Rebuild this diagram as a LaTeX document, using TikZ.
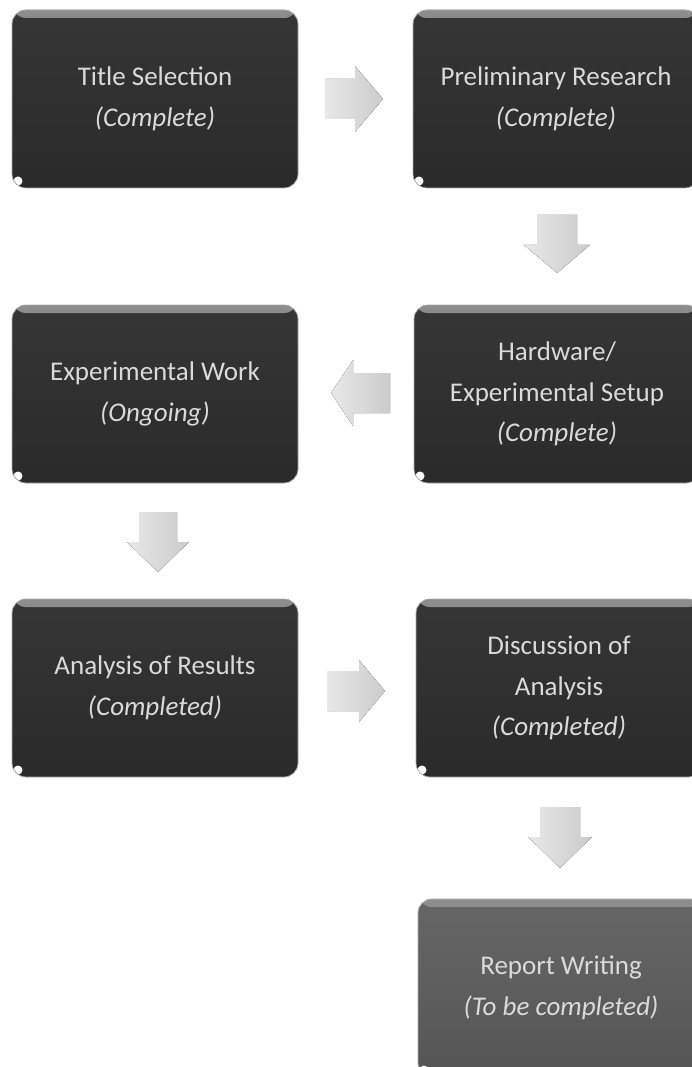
\documentclass[tikz,border=0pt]{standalone}
\usepackage{fontspec}
\setmainfont{Carlito}
\usetikzlibrary{shapes.misc}
\definecolor{boxdark}{HTML}{2A2A2A}
\definecolor{boxdarktop}{HTML}{363636}
\definecolor{boxgrey}{HTML}{555555}
\definecolor{boxgreytop}{HTML}{666666}
\definecolor{boxtext}{HTML}{DADADA}
\definecolor{hilite}{HTML}{8E8E8E}
\definecolor{arrowlight}{HTML}{E8E8E8}
\definecolor{arrowdark}{HTML}{CBCBCB}
\tikzset{
  stagebox/.style={
    rounded corners=14pt, minimum width=286pt, minimum height=178pt,
    inner sep=0pt, align=center, text=boxtext,
    font=\fontsize{27}{40.5}\selectfont,
    top color=#1top, bottom color=#1, draw=gray!65, line width=0.8pt,
    path picture={
      \shade[top color=hilite, bottom color=#1top]
        (path picture bounding box.north west) rectangle
        ([yshift=-8pt]path picture bounding box.north east);
      \fill[white] ([xshift=6pt,yshift=7pt]path picture bounding box.south west) circle (4.5pt);
    }},
  stagebox/.default=boxdark,
  blockarrow/.style={left color=arrowlight, right color=arrowdark, draw=none}
}
\begin{document}
\begin{tikzpicture}[x=1pt,y=-1pt]
\useasboundingbox (0,0) rectangle (692,1067);
\clip (0,0) rectangle (692,1067);
\fill[white] (0,0) rectangle (692,1067);

\node[stagebox] (n1) at (155,99) {Title Selection\\\textit{(Complete)}};
\node[stagebox] (n2) at (556,99) {Preliminary Research\\\textit{(Complete)}};
\node[stagebox] (n3) at (155,394) {Experimental Work\\\textit{(Ongoing)}};
\node[stagebox] (n4) at (557,394) {Hardware/\\Experimental Setup\\\textit{(Complete)}};
\node[stagebox] (n5) at (155,688) {Analysis of Results\\\textit{(Completed)}};
\node[stagebox] (n6) at (559,688) {Discussion of\\Analysis\\\textit{(Completed)}};
\node[stagebox=boxgrey] (n7) at (561,988) {Report Writing\\\textit{(To be completed)}};

% right arrow n1 -> n2
\coordinate (a1) at (325,99);
\fill[blockarrow] (a1) ++(0,-20) -- ++(30,0) -- ++(0,-13) -- ++(28,33) -- ++(-28,33) -- ++(0,-13) -- ++(-30,0) -- cycle;
% down arrow n2 -> n4
\coordinate (a2) at (557,215);
\fill[blockarrow] (a2) ++(-20,0) -- ++(40,0) -- ++(0,30) -- ++(13,0) -- ++(-33,28) -- ++(-33,-28) -- ++(13,0) -- cycle;
% left arrow n4 -> n3
\coordinate (a3) at (390,393);
\fill[blockarrow] (a3) ++(0,-20) -- ++(-37,0) -- ++(0,-13) -- ++(-22,33) -- ++(22,33) -- ++(0,-13) -- ++(37,0) -- cycle;
% down arrow n3 -> n5
\coordinate (a4) at (158,512);
\fill[blockarrow] (a4) ++(-19,0) -- ++(38,0) -- ++(0,30) -- ++(12,0) -- ++(-31,30) -- ++(-31,-30) -- ++(12,0) -- cycle;
% right arrow n5 -> n6
\coordinate (a5) at (327,691);
\fill[blockarrow] (a5) ++(0,-20) -- ++(32,0) -- ++(0,-11) -- ++(26,31) -- ++(-26,31) -- ++(0,-11) -- ++(-32,0) -- cycle;
% down arrow n6 -> n7
\coordinate (a6) at (560,807);
\fill[blockarrow] (a6) ++(-20,0) -- ++(40,0) -- ++(0,30) -- ++(12,0) -- ++(-32,31) -- ++(-32,-31) -- ++(12,0) -- cycle;
\end{tikzpicture}
\end{document}
